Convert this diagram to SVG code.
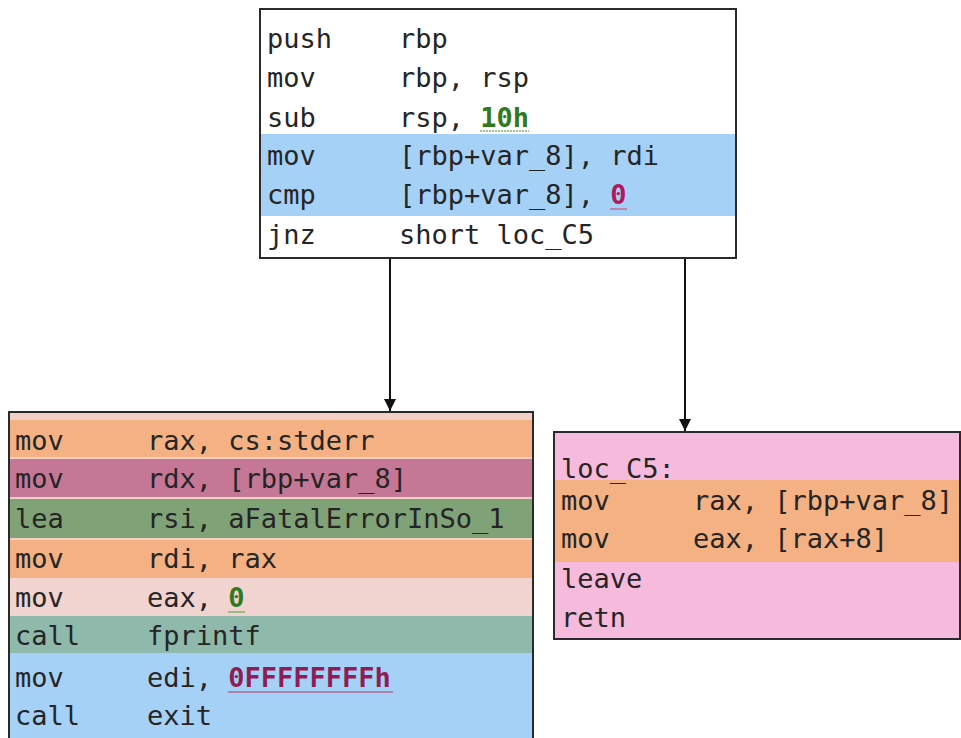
<svg xmlns="http://www.w3.org/2000/svg" width="961" height="738" viewBox="0 0 961 738">
<defs>
<style>
text{font-family:"DejaVu Sans Mono","Liberation Mono",monospace;font-size:27px;fill:#252525}
.b{font-weight:bold}
.g{fill:#2f7a1f}
.m{fill:#b0195e}
.m2{fill:#8f1d55}
.box{stroke:#2a2a2a;stroke-width:2}
.edge{stroke:#111;stroke-width:2;fill:none}
</style>
<marker id="ah" viewBox="0 0 10 10" refX="10" refY="5" markerWidth="6" markerHeight="6" orient="auto" markerUnits="strokeWidth"><path d="M0,0 L10,5 L0,10 z" fill="#111"/></marker>
</defs>
<rect width="961" height="738" fill="#fff"/>

<g id="block-top">
<rect x="260" y="9" width="476" height="249" fill="#fff" class="box"/>
<rect x="261" y="134" width="474" height="82" fill="#a6d1f7"/>
<text x="267" y="48">push</text><text x="399" y="48">rbp</text>
<text x="267" y="87">mov</text><text x="399" y="87">rbp, rsp</text>
<text x="267" y="127">sub</text><text x="399" y="127">rsp, <tspan class="b g">10h</tspan></text>
<line x1="480" y1="131" x2="529" y2="131" stroke="#7fb36a" stroke-width="1.5" stroke-dasharray="2,1"/>
<text x="267" y="165">mov</text><text x="399" y="165">[rbp+var_8], rdi</text>
<text x="267" y="204">cmp</text><text x="399" y="204">[rbp+var_8], <tspan class="b m">0</tspan></text>
<line x1="610" y1="209" x2="627" y2="209" stroke="#c86a96" stroke-width="1.5"/>
<rect x="261" y="216" width="474" height="41" fill="#fff"/>
<text x="267" y="244">jnz</text><text x="399" y="244">short loc_C5</text>
</g>

<g id="block-left">
<rect x="9" y="412" width="524" height="330" fill="#f2d0c6" class="box"/>
<rect x="10" y="420" width="522" height="37" fill="#f4b183"/>
<rect x="10" y="459" width="522" height="38" fill="#c47896"/>
<rect x="10" y="499" width="522" height="39" fill="#80a277"/>
<rect x="10" y="540" width="522" height="38" fill="#f4b183"/>
<rect x="10" y="578" width="522" height="38" fill="#f1d3d0"/>
<rect x="10" y="616" width="522" height="37" fill="#8fbaab"/>
<rect x="10" y="653" width="522" height="88" fill="#a6d1f7"/>
<text x="15" y="450">mov</text><text x="147" y="450">rax, cs:stderr</text>
<text x="15" y="488">mov</text><text x="147" y="488">rdx, [rbp+var_8]</text>
<text x="15" y="528">lea</text><text x="147" y="528">rsi, aFatalErrorInSo_1</text>
<text x="15" y="568">mov</text><text x="147" y="568">rdi, rax</text>
<text x="15" y="607">mov</text><text x="147" y="607">eax, <tspan class="b g">0</tspan></text>
<line x1="228" y1="612" x2="245" y2="612" stroke="#7fb36a" stroke-width="1.5"/>
<text x="15" y="645">call</text><text x="147" y="645">fprintf</text>
<text x="15" y="687">mov</text><text x="147" y="687">edi, <tspan class="b m2">0FFFFFFFFh</tspan></text>
<line x1="228" y1="692" x2="393" y2="692" stroke="#b06a8e" stroke-width="1.5"/>
<text x="15" y="725">call</text><text x="147" y="725">exit</text>
</g>

<g id="block-right">
<rect x="554" y="432" width="406" height="207" fill="#f6bbdc" class="box"/>
<rect x="555" y="480" width="404" height="82" fill="#f4b183"/>
<text x="561" y="478">loc_C5:</text>
<text x="561" y="510">mov</text><text x="693" y="510">rax, [rbp+var_8]</text>
<text x="561" y="548">mov</text><text x="693" y="548">eax, [rax+8]</text>
<text x="561" y="588">leave</text>
<text x="561" y="627">retn</text>
</g>

<g id="edges">
<line class="edge" x1="390" y1="259" x2="390" y2="411" marker-end="url(#ah)"/>
<line class="edge" x1="685" y1="259" x2="685" y2="431" marker-end="url(#ah)"/>
</g>
</svg>
